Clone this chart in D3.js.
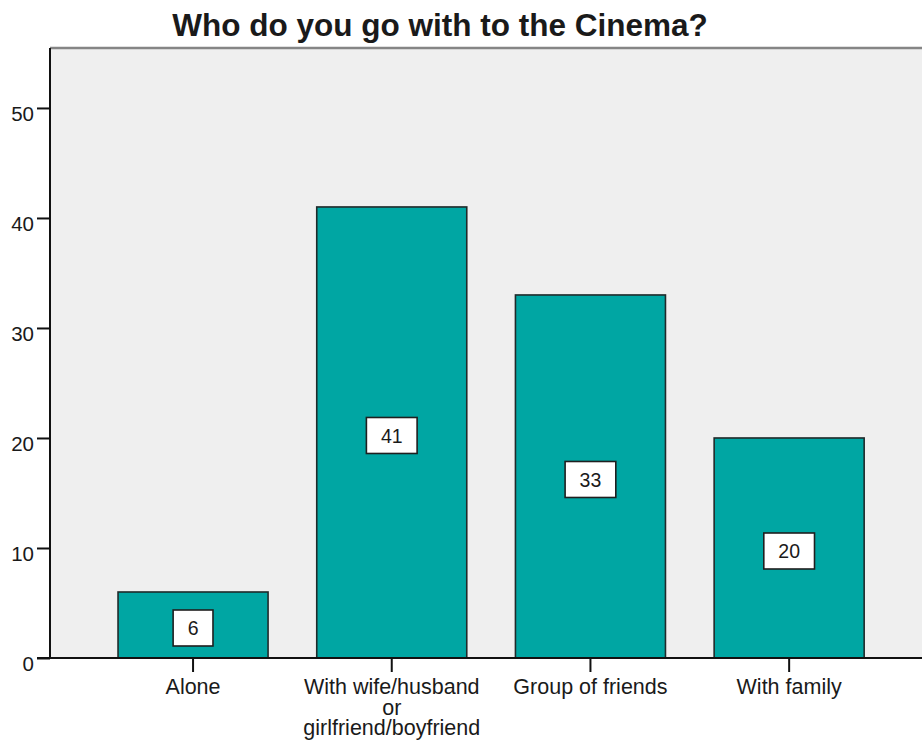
<!DOCTYPE html>
<html>
<head>
<meta charset="utf-8">
<script src="https://cdn.jsdelivr.net/npm/d3@7"></script>
<style>
  html, body { margin: 0; padding: 0; background: #ffffff; }
  svg { display: block; }
  text { font-family: "Liberation Sans", Arial, sans-serif; fill: #1a1a1a; }
</style>
</head>
<body>
<svg id="chart" width="922" height="740"></svg>
<script>
// Chart content
const title = "Who do you go with to the Cinema?";
const categories = ["Alone", "With wife/husband\nor\ngirlfriend/boyfriend", "Group of friends", "With family"];
const counts = [6, 41, 33, 20];
const yTicks = [0, 10, 20, 30, 40, 50];
const yMax = 55.45;

const W = 922, H = 740;
const plot = { left: 50, top: 48, right: 930, bottom: 658 };

const svg = d3.select("#chart");

const x = d3.scaleBand()
  .domain(categories)
  .range([93.7, 888.5])
  .paddingInner(0.245)
  .paddingOuter(0.1225);

const y = d3.scaleLinear()
  .domain([0, yMax])
  .range([plot.bottom, plot.top]);

// Plot background
svg.append("rect")
  .attr("x", plot.left)
  .attr("y", plot.top)
  .attr("width", plot.right - plot.left)
  .attr("height", plot.bottom - plot.top)
  .attr("fill", "#efefef");

// Top frame line
svg.append("line")
  .attr("x1", plot.left).attr("x2", plot.right)
  .attr("y1", plot.top).attr("y2", plot.top)
  .attr("stroke", "#858585").attr("stroke-width", 2.5);

// Bars
svg.append("g").selectAll("rect")
  .data(categories)
  .join("rect")
  .attr("x", d => x(d))
  .attr("y", (d, i) => y(counts[i]))
  .attr("width", x.bandwidth())
  .attr("height", (d, i) => y(0) - y(counts[i]))
  .attr("fill", "#00a6a3")
  .attr("stroke", "#1f2a2a")
  .attr("stroke-width", 1.6);

// Y axis
const yAxis = d3.axisLeft(y)
  .tickValues(yTicks)
  .tickSize(13)
  .tickPadding(3)
  .tickFormat(d3.format("d"));

const yg = svg.append("g")
  .attr("transform", `translate(${plot.left},0)`)
  .call(yAxis);
yg.select(".domain")
  .attr("d", `M0,${plot.top}V${plot.bottom}`)
  .attr("stroke", "#111").attr("stroke-width", 2);
yg.selectAll(".tick line").attr("stroke", "#111").attr("stroke-width", 2);
yg.selectAll(".tick text")
  .attr("font-size", 20.5)
  .attr("dy", "0.6em")
  .style("font-family", "'Liberation Sans', Arial, sans-serif")
  .attr("fill", "#1a1a1a");

// X axis
const xAxis = d3.axisBottom(x).tickSize(14).tickFormat("");
const xg = svg.append("g")
  .attr("transform", `translate(0,${plot.bottom})`)
  .call(xAxis);
xg.select(".domain")
  .attr("d", `M${plot.left - 13},0H${plot.right}`)
  .attr("stroke", "#111").attr("stroke-width", 2);
xg.selectAll(".tick line").attr("stroke", "#111").attr("stroke-width", 2);

// Category labels (multi-line, tightly stacked)
const catLabels = svg.append("g");
categories.forEach(c => {
  const t = catLabels.append("text")
    .attr("x", x(c) + x.bandwidth() / 2)
    .attr("y", 694)
    .attr("text-anchor", "middle")
    .attr("font-size", 21.5);
  c.split("\n").forEach((line, j) => {
    t.append("tspan")
      .attr("x", x(c) + x.bandwidth() / 2)
      .attr("dy", j === 0 ? 0 : 20.5)
      .text(line);
  });
});

// Value label boxes
const lab = svg.append("g").selectAll("g")
  .data(categories)
  .join("g")
  .attr("transform", (d, i) => `translate(${x(d) + x.bandwidth() / 2},${y(counts[i] / 2) + 3})`);

lab.each(function(d, i) {
  const g = d3.select(this);
  const rect = g.append("rect");
  const t = g.append("text")
    .attr("text-anchor", "middle")
    .attr("dy", "0.36em")
    .attr("font-size", 19.5)
    .text(counts[i]);
  const w = t.node().getComputedTextLength() + 29;
  rect.attr("x", -w / 2).attr("y", -18)
    .attr("width", w).attr("height", 36)
    .attr("fill", "#ffffff")
    .attr("stroke", "#1f1f1f")
    .attr("stroke-width", 1.6);
});

// Title
svg.append("text")
  .attr("x", 440)
  .attr("y", 36)
  .attr("text-anchor", "middle")
  .attr("font-size", 31.5)
  .attr("font-weight", "bold")
  .attr("fill", "#000")
  .text(title);
</script>
</body>
</html>
